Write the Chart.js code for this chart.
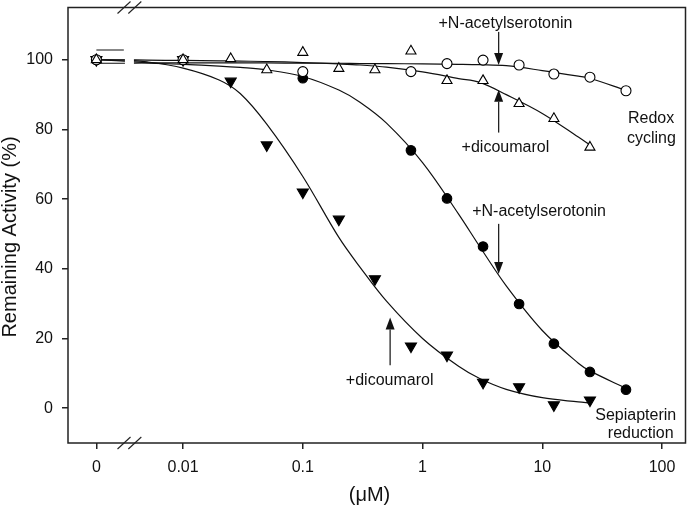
<!DOCTYPE html>
<html>
<head>
<meta charset="utf-8">
<script src="https://cdn.jsdelivr.net/npm/chart.js@4"></script>
<style>
  html, body { margin: 0; padding: 0; background: #fff; }
</style>
</head>
<body>
<canvas id="myChart" width="693" height="505"></canvas>
<script>
// concentrations (µM) of the measured points
const conc = [0, 0.01, 0.025, 0.05, 0.1, 0.2, 0.4, 0.8, 1.6, 3.2, 6.4, 12.5, 25, 50];
// remaining activity (%) for each series, null = no point
const redoxNAS = [100, 100, null, null, 96.6, null, null, 96.6, 98.9, 99.9, 98.5, 95.9, 95.0, 91.1];
const redoxDic = [100, 100, 100.3, 97.1, 102.1, 97.5, 97.1, 102.5, 94.0, 94.0, 87.4, 83.1, 74.9, null];
const sepNAS = [100, null, null, null, 94.7, null, null, 74.0, 60.2, 46.4, 29.9, 18.5, 10.4, 5.3];
const sepDic = [100, 100, 93.8, 75.5, 62.0, 54.2, 37.1, 17.8, 15.2, 7.4, 6.1, 0.9, 2.3, null];

// fitted curves
const fitConc = [0, 0.0032, 0.005, 0.01, 0.02, 0.03, 0.05, 0.1, 0.2, 0.3, 0.5, 1, 2, 3, 5, 10, 20, 25, 50];
const fitRedoxNAS = [99.0, 99.0, 99.1, 99.1, 99.1, 99.1, 99.1, 99.0, 99.0, 98.9, 98.9, 98.8, 98.7, 98.6, 98.3, 96.9, 95.3, 94.7, 91.2];
const fitRedoxDic = [100, 100, 99.9, 99.8, 99.7, 99.6, 99.5, 99.2, 98.8, 98.5, 97.9, 96.5, 94.6, 93.5, 90.0, 84.6, 77.8, 75.5, null];
const fitSepNAS = [100, 99.6, 99.1, 98.7, 98.2, 97.8, 97.1, 95.2, 91.3, 87.8, 81.8, 70.5, 55.7, 46.4, 35.1, 22.3, 12.9, 10.7, 5.7];
const fitSepDic = [100, 99.9, 99.4, 97.6, 94.2, 90.3, 81.5, 66.5, 49.0, 40.5, 30.7, 20.0, 12.0, 8.5, 5.4, 3.0, 1.8, 1.5, null];
// short extra line left of the axis break
const topLineConc = [0, 0.0032];
const topLineVal = [102.8, 102.8];

// axes
const xTickVals = [0, 0.01, 0.1, 1, 10, 100];
const xTickLabels = ['0', '0.01', '0.1', '1', '10', '100'];
const yTickVals = [0, 20, 40, 60, 80, 100];

// labels and arrows, in data units (conc, %)
const notes = [
    { text: '+N-acetylserotonin', c: 4.92, v: 110.4 },
    { text: '+dicoumarol', c: 4.92, v: 74.7 },
    { text: 'Redox', c: 81, v: 83.2 },
    { text: 'cycling', c: 81.5, v: 77.3 },
    { text: '+N-acetylserotonin', c: 9.4, v: 56.4 },
    { text: '+dicoumarol', c: 0.531, v: 8.0 },
    { text: 'Sepiapterin', c: 60.3, v: -2.0 },
    { text: 'reduction', c: 66.4, v: -7.3 }
];
const arrows = [
    { c: 4.32, from: 108, to: 98.5 },
    { c: 4.32, from: 79.1, to: 91.4 },
    { c: 4.32, from: 52.9, to: 38.5 },
    { c: 0.536, from: 12.3, to: 26.0 }
];

const FONT = '"Liberation Sans", Arial, Helvetica, sans-serif';
const INK = '#111';
const ZERO_LOG = -2.724;   // where "0" sits on the broken log axis
const BREAK_LOG = -2.448;

function xPos(c) {
    return c === 0 ? ZERO_LOG : Math.log10(c);
}

function toPoints(xs, ys) {
    const out = [];
    xs.forEach((c, i) => {
        if (ys[i] !== null) out.push({ x: xPos(c), y: ys[i] });
    });
    return out;
}

function markerSet(values, style, filled, radius, rotation) {
    return {
        data: toPoints(conc, values),
        showLine: false,
        pointStyle: style,
        pointRadius: radius,
        pointRotation: rotation || 0,
        pointBackgroundColor: filled ? '#000' : '#fff',
        pointBorderColor: '#000',
        pointBorderWidth: 1.1,
        order: 1
    };
}

function curveSet(xs, values) {
    return {
        data: toPoints(xs, values),
        showLine: true,
        borderColor: INK,
        borderWidth: 1.2,
        pointRadius: 0,
        tension: 0.35,
        order: 2
    };
}

function drawArrow(ctx, x, y0, y1) {
    const dir = y1 > y0 ? 1 : -1;
    const head = 12;
    ctx.beginPath();
    ctx.moveTo(x, y0);
    ctx.lineTo(x, y1 - dir * head);
    ctx.stroke();
    ctx.beginPath();
    ctx.moveTo(x, y1);
    ctx.lineTo(x - 4.5, y1 - dir * head);
    ctx.lineTo(x + 4.5, y1 - dir * head);
    ctx.closePath();
    ctx.fill();
}

// break, frame, texts and arrows
const decorations = {
    id: 'decorations',
    afterDatasetsDraw(chart) {
        const { ctx, chartArea: a, scales: { x, y } } = chart;
        ctx.save();
        const bx = x.getPixelForValue(BREAK_LOG);
        ctx.fillStyle = '#fff';
        ctx.fillRect(bx - 4.5, a.top + 1, 9, a.bottom - a.top - 2);

        ctx.strokeStyle = '#222';
        ctx.lineWidth = 1.5;
        ctx.strokeRect(a.left, a.top, a.right - a.left, a.bottom - a.top);

        ctx.lineWidth = 1.1;
        [a.top, a.bottom].forEach(yy => {
            [-5.4, 5.4].forEach(dx => {
                ctx.beginPath();
                ctx.moveTo(bx + dx - 6.5, yy + 6);
                ctx.lineTo(bx + dx + 6.5, yy - 6);
                ctx.stroke();
            });
        });

        ctx.fillStyle = INK;
        ctx.textAlign = 'center';
        ctx.textBaseline = 'middle';
        ctx.font = '16px ' + FONT;
        notes.forEach(n => {
            ctx.fillText(n.text, x.getPixelForValue(xPos(n.c)), y.getPixelForValue(n.v));
        });

        ctx.strokeStyle = '#222';
        ctx.fillStyle = '#111';
        ctx.lineWidth = 1.3;
        arrows.forEach(ar => {
            drawArrow(ctx, x.getPixelForValue(xPos(ar.c)), y.getPixelForValue(ar.from), y.getPixelForValue(ar.to));
        });

        // axis titles
        ctx.fillStyle = INK;
        ctx.font = '20px ' + FONT;
        ctx.fillText('(\u03bcM)', 369.5, 495);
        ctx.save();
        ctx.translate(16.3, 237);
        ctx.rotate(-Math.PI / 2);
        ctx.textBaseline = 'alphabetic';
        ctx.fillText('Remaining Activity (%)', 0, 0);
        ctx.restore();
        ctx.restore();
    }
};

const ctx = document.getElementById('myChart').getContext('2d');
const myChart = new Chart(ctx, {
    type: 'scatter',
    data: {
        datasets: [
            markerSet(redoxDic, 'triangle', false, 5.8),
            markerSet(redoxNAS, 'circle', false, 5),
            markerSet(sepNAS, 'circle', true, 4.8),
            markerSet(sepDic, 'triangle', true, 6.4, 180),
            curveSet(fitConc, fitRedoxNAS),
            curveSet(fitConc, fitRedoxDic),
            curveSet(fitConc, fitSepNAS),
            curveSet(fitConc, fitSepDic),
            curveSet(topLineConc, topLineVal)
        ]
    },
    options: {
        responsive: false,
        animation: false,
        layout: { padding: { top: 6, right: 1, left: 0, bottom: 0 } },
        plugins: {
            legend: { display: false },
            tooltip: { enabled: false }
        },
        scales: {
            x: {
                type: 'linear',
                min: -2.961,
                max: 2.196,
                afterBuildTicks: s => { s.ticks = xTickVals.map(v => ({ value: xPos(v) })); },
                afterFit: s => {
                    s.height = 62;
                    s.paddingLeft = 0; s.paddingRight = 0;
                },
                border: { display: false },
                grid: { display: true, drawOnChartArea: false, drawTicks: true, tickLength: 6, color: '#222', lineWidth: 1.5 },
                ticks: {
                    callback: (v, i) => xTickLabels[i],
                    font: { family: FONT, size: 16 },
                    color: INK,
                    padding: 9,
                    maxRotation: 0,
                    autoSkip: false
                }
            },
            y: {
                min: -10,
                max: 115,
                afterBuildTicks: s => { s.ticks = yTickVals.map(v => ({ value: v })); },
                afterFit: s => {
                    s.width = 68;
                    s.paddingTop = 0; s.paddingBottom = 0;
                },
                border: { display: false },
                grid: { display: true, drawOnChartArea: false, drawTicks: true, tickLength: 6, color: '#222', lineWidth: 1.5 },
                ticks: {
                    font: { family: FONT, size: 16 },
                    color: INK,
                    padding: 9
                }
            }
        }
    },
    plugins: [decorations]
});
</script>
</body>
</html>
